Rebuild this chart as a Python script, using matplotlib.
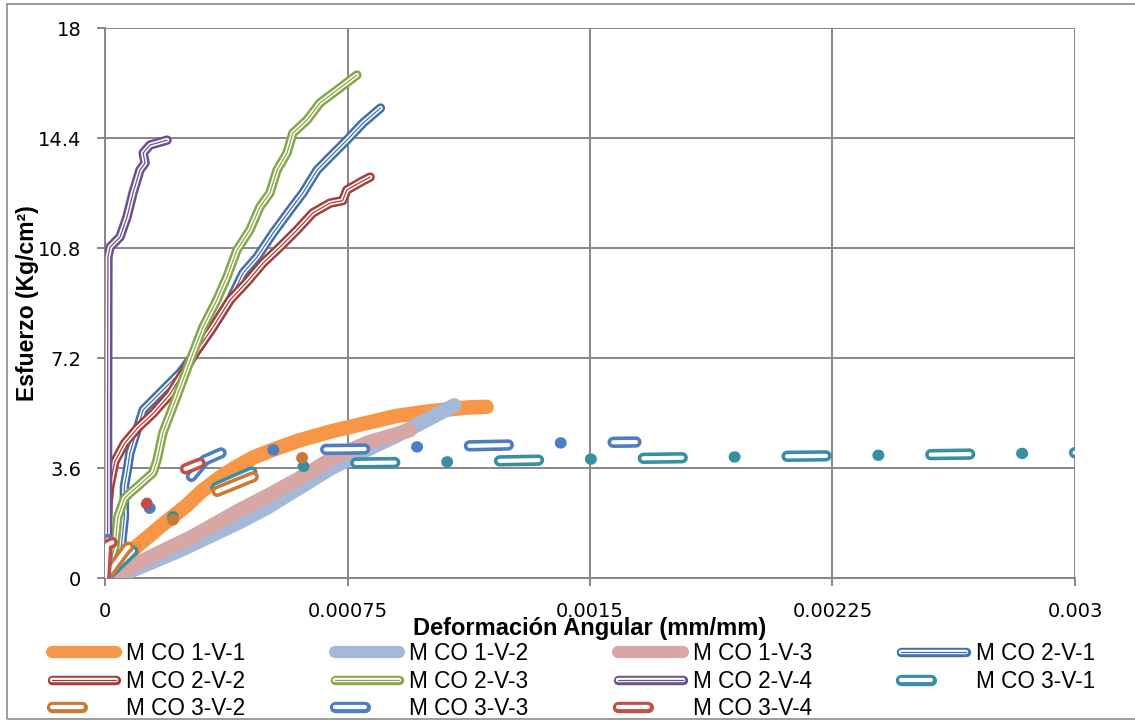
import matplotlib
matplotlib.use("Agg")
import matplotlib.pyplot as plt
from matplotlib.lines import Line2D
from matplotlib.legend_handler import HandlerTuple
from matplotlib.patches import Rectangle

plt.rcParams['lines.scale_dashes'] = False

# ---------------- data ----------------
labels = ["M CO 1-V-1", "M CO 1-V-2", "M CO 1-V-3", "M CO 2-V-1", "M CO 2-V-2",
          "M CO 2-V-3", "M CO 2-V-4", "M CO 3-V-1", "M CO 3-V-2", "M CO 3-V-3", "M CO 3-V-4"]
colors = ["#F79646", "#A4B8D8", "#D7A7A6", "#4170AD", "#A73D3B",
          "#86A648", "#6B5190", "#3A8EA2", "#CB7A35", "#4D7FC0", "#C24E4B"]

x_1v1 = [0, 0.00004, 0.0001, 0.00019, 0.00025, 0.0003, 0.00035, 0.0004, 0.00046, 0.00052,
         0.0006, 0.0007, 0.0008, 0.0009, 0.001, 0.00112, 0.00118]
y_1v1 = [0, 0.45, 1.05, 1.85, 2.35, 2.85, 3.25, 3.6, 3.95, 4.2,
         4.5, 4.8, 5.05, 5.3, 5.45, 5.58, 5.6]

x_1v2 = [0, 0.00005, 0.00014, 0.00023, 0.00032, 0.00041, 0.0005, 0.0006, 0.0007, 0.0008,
         0.0009, 0.001, 0.00108]
y_1v2 = [0, 0.1, 0.5, 0.9, 1.35, 1.8, 2.3, 2.95, 3.6, 4.15, 4.65, 5.2, 5.65]

x_1v3 = [0, 0.000025, 0.000108, 0.000192, 0.000263, 0.000346, 0.000418, 0.000501,
         0.000603, 0.000705, 0.00081, 0.000943]
y_1v3 = [0, 0.03, 0.52, 0.95, 1.31, 1.80, 2.23, 2.68, 3.27, 3.93, 4.42, 4.84]

x_2v1 = [0, 0.00003, 0.00005, 0.00006, 0.00006, 0.00007, 0.000077, 0.000118, 0.000179,
         0.000232, 0.000285, 0.000334, 0.000387, 0.000427, 0.00047, 0.00052, 0.000572,
         0.000612, 0.000656, 0.000696, 0.000748, 0.000798, 0.000852]
y_2v1 = [0, 0.3, 1.0, 2.0, 3.0, 3.6, 4.09, 5.5, 6.15, 6.71, 7.46, 8.21, 9.1, 9.98, 10.5,
         11.29, 12.04, 12.6, 13.35, 13.78, 14.33, 14.89, 15.38]

x_2v2 = [0, 0.000005, 0.00001, 0.000015, 0.00003, 0.00006, 0.0001, 0.00015, 0.0002,
         0.000285, 0.000334, 0.000387, 0.00044, 0.000489, 0.000541, 0.000594, 0.000643,
         0.000696, 0.000735, 0.000748, 0.000798, 0.00082]
y_2v2 = [0, 1.0, 2.5, 3.0, 3.8, 4.4, 4.9, 5.4, 6.0, 7.46, 8.21, 9.1, 9.7, 10.31, 10.83,
         11.39, 11.95, 12.27, 12.35, 12.70, 13.0, 13.12]

x_2v3 = [0, 0.00001, 0.00003, 0.00004, 0.00006, 0.000077, 0.000099, 0.000148, 0.000161,
         0.000179, 0.00021, 0.000241, 0.000272, 0.000303, 0.000346, 0.000377, 0.000408,
         0.000448, 0.000479, 0.00051, 0.000532, 0.000563, 0.000581, 0.000625, 0.000665,
         0.000718, 0.000779]
y_2v3 = [0, 0.3, 1.0, 2.0, 2.6, 2.78, 2.98, 3.44, 3.86, 4.75, 5.6, 6.48, 7.36, 8.21, 9.1,
         9.85, 10.73, 11.39, 12.14, 12.6, 13.35, 13.91, 14.56, 14.99, 15.55, 15.97, 16.46]

x_2v4 = [0, 0.000008, 0.000008, 0.000009, 0.0000155, 0.0000464, 0.000068, 0.0000866,
         0.000108, 0.000124, 0.000118, 0.000139, 0.000192]
y_2v4 = [0, 0.5, 5.0, 10.5, 10.83, 11.16, 11.81, 12.6, 13.35, 13.58, 13.91, 14.17, 14.33]

x_3v1 = [0, 0.00009, 0.00021, 0.00033, 0.00047, 0.00061, 0.00075, 0.00106, 0.0015,
         0.002, 0.0025, 0.003]
y_3v1 = [0, 0.92, 2.0, 2.9, 3.55, 3.65, 3.76, 3.8, 3.89, 3.97, 4.03, 4.1]

x_3v2 = [0, 0.000068, 0.000201, 0.000334, 0.000448, 0.000625]
y_3v2 = [0, 0.98, 1.83, 2.78, 3.27, 4.0]

x_3v3 = [0, 0.0000062, 0.000139, 0.000263, 0.000309, 0.000365, 0.00052, 0.000795,
         0.000959, 0.00124, 0.0014, 0.001642]
y_3v3 = [0, 1.24, 2.29, 3.27, 3.86, 4.12, 4.19, 4.22, 4.29, 4.35, 4.42, 4.45]

x_3v4 = [0, 0.0000062, 0.000037, 0.000133, 0.000232, 0.000294]
y_3v4 = [0, 1.08, 1.24, 2.49, 3.50, 3.76]

xs = [x_1v1, x_1v2, x_1v3, x_2v1, x_2v2, x_2v3, x_2v4, x_3v1, x_3v2, x_3v3, x_3v4]
ys = [y_1v1, y_1v2, y_1v3, y_2v1, y_2v2, y_2v3, y_2v4, y_3v1, y_3v2, y_3v3, y_3v4]
kinds = ["solid"] * 3 + ["triple"] * 4 + ["dashdot"] * 4

x_ticks = [0, 0.00075, 0.0015, 0.00225, 0.003]
x_ticklabels = ["0", "0.00075", "0.0015", "0.00225", "0.003"]
y_ticks = [0, 3.6, 7.2, 10.8, 14.4, 18]
y_ticklabels = ["0", "3.6", "7.2", "10.8", "14.4", "18"]

# ---------------- styles ----------------
GRID = "#878787"
LABEL_FONT = ["Liberation Sans", "DejaVu Sans"]
LW_SOLID = 10.5
LW_T_OUT, LW_T_WHITE, LW_T_IN = 6.8, 3.2, 0.9
LW_D_OUT, LW_D_WHITE = 8.2, 3.0
D_ON, D_GAP, D_DOT = 28.0, 37.5, 0.5
PERIOD = D_ON + 2 * D_GAP + D_DOT

fig = plt.figure(figsize=(11.35, 7.23), dpi=100)
ax = fig.add_axes([105 / 1135, 145 / 723, 970 / 1135, 550 / 723])

z = 3
for x, y, c, k in zip(xs, ys, colors, kinds):
    if k == "solid":
        ax.plot(x, y, color=c, lw=LW_SOLID, solid_capstyle="round",
                solid_joinstyle="round", zorder=z)
    elif k == "triple":
        ax.plot(x, y, color=c, lw=LW_T_OUT, solid_capstyle="round",
                solid_joinstyle="round", zorder=z)
        ax.plot(x, y, color="white", lw=LW_T_WHITE, solid_capstyle="round",
                solid_joinstyle="round", zorder=z + 0.1)
        ax.plot(x, y, color=c, lw=LW_T_IN, solid_capstyle="round",
                solid_joinstyle="round", zorder=z + 0.2)
    else:
        ax.plot(x, y, color=c, lw=LW_D_OUT, linestyle=(0, (D_ON, D_GAP, D_DOT, D_GAP)),
                dash_capstyle="round", dash_joinstyle="round", zorder=z)
        ax.plot(x, y, color="white", lw=LW_D_WHITE, linestyle=(0, (D_ON, PERIOD - D_ON)),
                dash_capstyle="round", dash_joinstyle="round", zorder=z + 0.1)
    z += 1

ax.set_xlim(0, 0.003)
ax.set_ylim(0, 18)
ax.set_xticks(x_ticks)
ax.set_xticklabels(x_ticklabels)
ax.set_yticks(y_ticks)
ax.set_yticklabels(y_ticklabels)
ax.grid(True, color=GRID, lw=1.4)
ax.set_axisbelow(True)
for s in ["top", "right"]:
    ax.spines[s].set_visible(False)
for s in ["left", "bottom"]:
    ax.spines[s].set_color(GRID)
    ax.spines[s].set_linewidth(1.4)
ax.tick_params(direction="out", length=6, width=1.4, color=GRID, pad=11,
               labelsize=14, labelcolor="black")
for t in ax.get_xticklabels() + ax.get_yticklabels():
    t.set_fontfamily("DejaVu Sans")

ax.set_xlabel("Deformación Angular (mm/mm)", family=LABEL_FONT, fontweight="bold",
              fontsize=17, va="center")
ax.xaxis.set_label_coords(0.5, -0.091)
ax.set_ylabel("Esfuerzo (Kg/cm²)", family=LABEL_FONT, fontweight="bold",
              fontsize=16.5, va="center")
ax.yaxis.set_label_coords(-0.080, 0.5)

# ---------------- legend ----------------
handles = []
for c, k in zip(colors, kinds):
    if k == "solid":
        handles.append(Line2D([], [], color=c, lw=8.8, solid_capstyle="round"))
    elif k == "triple":
        handles.append((Line2D([], [], color=c, lw=LW_T_OUT, solid_capstyle="round"),
                        Line2D([], [], color="white", lw=LW_T_WHITE, solid_capstyle="round"),
                        Line2D([], [], color=c, lw=LW_T_IN, solid_capstyle="round")))
    else:
        handles.append((Line2D([], [], color=c, lw=LW_D_OUT, linestyle=(0, (21.5, 200)),
                               dash_capstyle="round"),
                        Line2D([], [], color="white", lw=LW_D_WHITE, linestyle=(0, (21.5, 200)),
                               dash_capstyle="round")))

order = [r * 4 + c for c in range(4) for r in range(3) if r * 4 + c < len(labels)]
fig.legend([handles[i] for i in order], [labels[i] for i in order],
           handler_map={tuple: HandlerTuple(ndivide=1, pad=0)},
           loc="upper left", bbox_to_anchor=(52 / 1135, 1 - 642 / 723),
           ncol=4, frameon=False, borderpad=0, borderaxespad=0,
           handlelength=2.84, handletextpad=0.44, columnspacing=3.96,
           labelspacing=0.2, prop={"family": LABEL_FONT, "size": 16.3})

fig.patches.append(Rectangle((7 / 1135, 4 / 723), 1.2, 715 / 723, transform=fig.transFigure,
                             fill=False, ec="#8C8C8C", lw=1.2))

fig.savefig("out.png", dpi=100)
